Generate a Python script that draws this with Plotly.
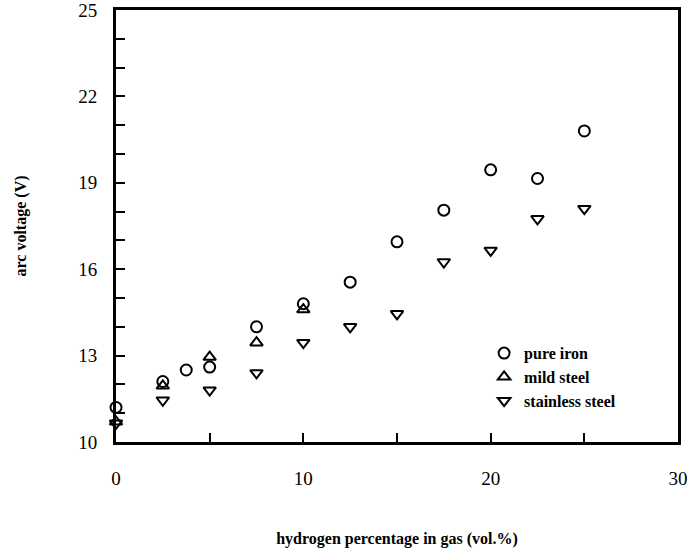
import plotly.graph_objects as go

# arc voltage vs hydrogen content
h_iron = [0, 2.5, 3.75, 5, 7.5, 10, 12.5, 15, 17.5, 20, 22.5, 25]
v_iron = [11.2, 12.1, 12.5, 12.6, 14.0, 14.8, 15.55, 16.95, 18.05, 19.45, 19.15, 20.8]

h_mild = [0, 2.5, 5, 7.5, 10]
v_mild = [10.7, 11.95, 12.95, 13.45, 14.6]

h_stainless = [0, 2.5, 5, 7.5, 10, 12.5, 15, 17.5, 20, 22.5, 25]
v_stainless = [10.65, 11.45, 11.8, 12.4, 13.45, 14.0, 14.45, 16.25, 16.65, 17.75, 18.1]

serif = "Liberation Serif"

fig = go.Figure()
series = [
    (h_iron, v_iron, "<b>pure iron</b>", "circle-open"),
    (h_mild, v_mild, "<b>mild steel</b>", "triangle-up-open"),
    (h_stainless, v_stainless, "<b>stainless steel</b>", "triangle-down-open"),
]
for x, y, name, sym in series:
    fig.add_trace(go.Scatter(
        x=x, y=y, name=name, mode="markers", cliponaxis=False,
        marker=dict(symbol=sym, size=11, color="black", line=dict(width=2, color="black")),
    ))

axis_common = dict(
    showline=True, linecolor="black", linewidth=3, mirror=True,
    showgrid=False, zeroline=False, ticks="inside", tickcolor="black",
    tickwidth=1.5, ticklen=9, automargin=False, ticklabeloverflow="allow",
    tickfont=dict(family=serif, size=19, color="black"),
)

fig.update_xaxes(
    range=[0, 30], dtick=10, tick0=0,
    minor=dict(dtick=5, ticks="inside", ticklen=9, tickcolor="black", tickwidth=1.5),
    ticklabelstandoff=17,
    title=dict(text="<b>hydrogen percentage in gas (vol.%)</b>", standoff=46,
               font=dict(family=serif, size=16, color="black")),
    **axis_common,
)
fig.update_yaxes(
    range=[10, 25], dtick=3, tick0=10,
    minor=dict(dtick=1, ticks="inside", ticklen=9, tickcolor="black", tickwidth=1.5),
    ticklabelstandoff=12,
    title=dict(text="<b>arc voltage (V)</b>", standoff=48,
               font=dict(family=serif, size=16, color="black")),
    **axis_common,
)

fig.update_layout(
    width=692, height=554,
    margin=dict(l=116, r=14, t=10, b=112),
    paper_bgcolor="white", plot_bgcolor="white",
    showlegend=True,
    legend=dict(x=0.655, y=0.245, xanchor="left", yanchor="top",
                bgcolor="rgba(0,0,0,0)", itemwidth=30,
                font=dict(family=serif, size=16, color="black"),
                tracegroupgap=0),
)

# drop the default body margin so the figure sits at the page corner
fig.write_html("out.html", config={"displayModeBar": False},
               post_script="document.body.style.margin = '0';")
